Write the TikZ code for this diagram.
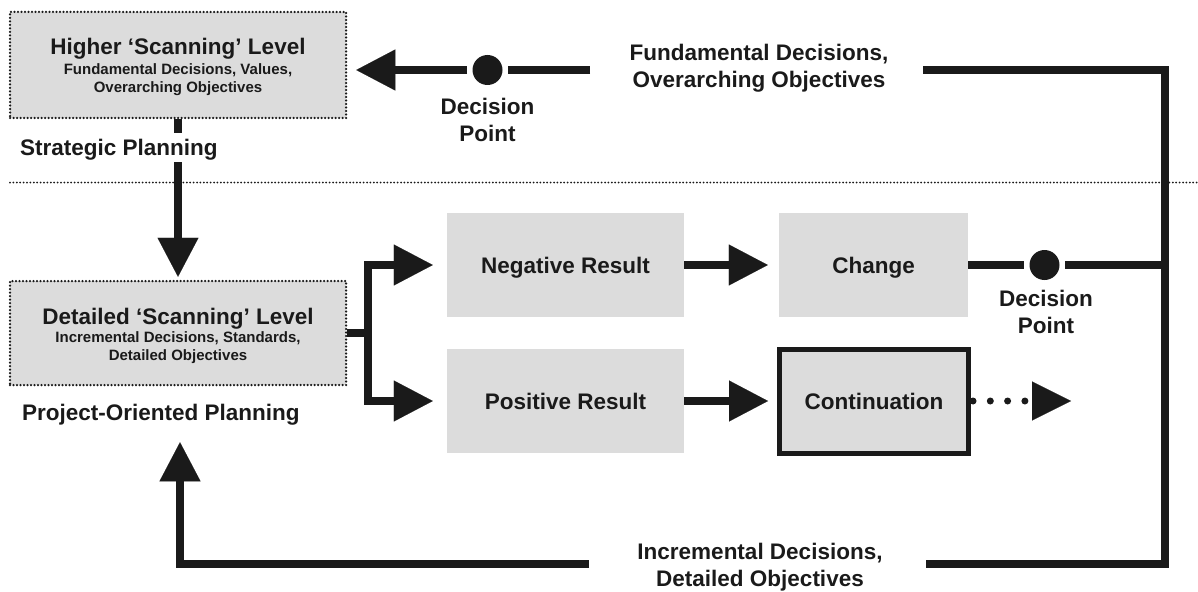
\documentclass[tikz,border=0pt]{standalone}
\usepackage{fontspec}
\setmainfont{Liberation Sans}
\usetikzlibrary{arrows.meta}
\definecolor{ink}{HTML}{1A1A1A}
\definecolor{boxgray}{HTML}{DCDCDC}
\newcommand\bstrut{\rule[-6pt]{0pt}{21pt}}
\newcommand\sstrut{\rule[-4pt]{0pt}{14pt}}
\begin{document}
\begin{tikzpicture}[x=1pt,y=-1pt,
  every node/.style={text=ink, font=\bfseries\fontsize{22.5}{27}\selectfont},
  small/.style={font=\bfseries\fontsize{15}{18}\selectfont},
  sepline/.style={draw=ink, line width=2pt, dash pattern=on 0pt off 3.4pt, line cap=round},
  scanbox/.style={draw=ink, fill=boxgray, line width=2.5pt, dash pattern=on 0pt off 3.5pt, line cap=round, minimum width=336pt, minimum height=104pt, inner sep=0pt},
  resbox/.style={fill=boxgray, minimum width=237pt, minimum height=104pt, inner sep=0pt, text height=16.1pt, text depth=0pt},
  dp/.style={circle, fill=ink, minimum size=30pt, inner sep=0pt, outer sep=5.5pt},
  ln/.style={draw=ink, line width=8pt},
  arr/.style={draw=ink, line width=8pt, -{Triangle[length=39pt,width=41pt,line width=0.1pt]}},
  dotarr/.style={draw=ink, line width=7pt, line cap=round, dash pattern=on 0pt off 17.3pt, -{Triangle[length=39pt,width=39pt,line width=0.1pt]}},
  lbl/.style={inner sep=0pt}
]
\useasboundingbox (0,0) rectangle (1198,591);
\draw[sepline] (10,182.5) -- (1198,182.5);

% boxes
\node[scanbox, minimum height=106pt] (higher) at (178,65) {};
\node[anchor=base, lbl] (highert) at (178,55) {Higher ‘Scanning’ Level};
\node[small, align=center, lbl] (highers) at (178,80.5) {\sstrut Fundamental Decisions, Values,\\\sstrut Overarching Objectives};
\node[scanbox] (detailed) at (178,333) {};
\node[anchor=base, lbl] (detailedt) at (178,324) {Detailed ‘Scanning’ Level};
\node[small, align=center, lbl] (detaileds) at (178,348) {\sstrut Incremental Decisions, Standards,\\\sstrut Detailed Objectives};

\node[resbox] (neg) at (565.5,265) {Negative Result};
\node[resbox] (pos) at (565.5,401) {Positive Result};
\node[resbox, minimum width=189pt] (change) at (873.5,265) {Change};
\node[resbox, draw=ink, line width=5pt, minimum width=189pt] (cont) at (874,401) {Continuation};

\node[dp] (dp1) at (487.5,70) {};
\node[dp] (dp2) at (1044.5,265) {};
\node[align=center, lbl] (dp1l) at (487.5,122.5) {\bstrut Decision\\\bstrut Point};
\node[align=center, lbl] (dp2l) at (1046,314.5) {\bstrut Decision\\\bstrut Point};
\node[align=center, lbl] (fund) at (759,69) {\bstrut Fundamental Decisions,\\\bstrut Overarching Objectives};
\node[align=center, lbl] (inc) at (760,567.5) {\bstrut Incremental Decisions,\\\bstrut Detailed Objectives};

\coordinate (ftl) at (590,70);
\coordinate (ftr) at (923,70);
\coordinate (rtop) at (1165,70);
\coordinate (rmid) at (1165,265);
\coordinate (rbot) at (1165,564);
\coordinate (ibr) at (926,564);
\coordinate (ibl) at (589,564);
\coordinate (br) at (367.5,333);
\coordinate (dotend) at (1071,401);

% connectors
\draw[arr, shorten >=3pt] (higher.south) -- (detailed.north);
\node[anchor=base west, fill=white, text height=22pt, text depth=7pt, lbl] (strat) at (20,155) {Strategic Planning};
\node[anchor=base west, lbl] (proj) at (22,420) {Project-Oriented Planning};

\draw[ln] (detailed.east) -- (br);
\draw[arr, shorten >=14pt] (br) |- (neg.west);
\draw[arr, shorten >=14pt] (br) |- (pos.west);
\draw[arr, shorten >=11pt] (neg.east) -- (change.west);
\draw[arr, shorten >=9pt] (pos.east) -- (cont.west);
\draw[dotarr] ([xshift=2pt]cont.east) -- (dotend);

\draw[ln] (change.east) -- (dp2);
\draw[ln] (dp2) -- (rmid);
\draw[ln] (ftr) -- (rtop) -- (rbot) -- (ibr);
\draw[arr, shorten >=56pt] (ibl) -| ([xshift=2pt]detailed.south);
\draw[ln] (ftl) -- (dp1);
\draw[arr, shorten >=9pt] (dp1) -- (dp1 -| higher.east);
\end{tikzpicture}
\end{document}
